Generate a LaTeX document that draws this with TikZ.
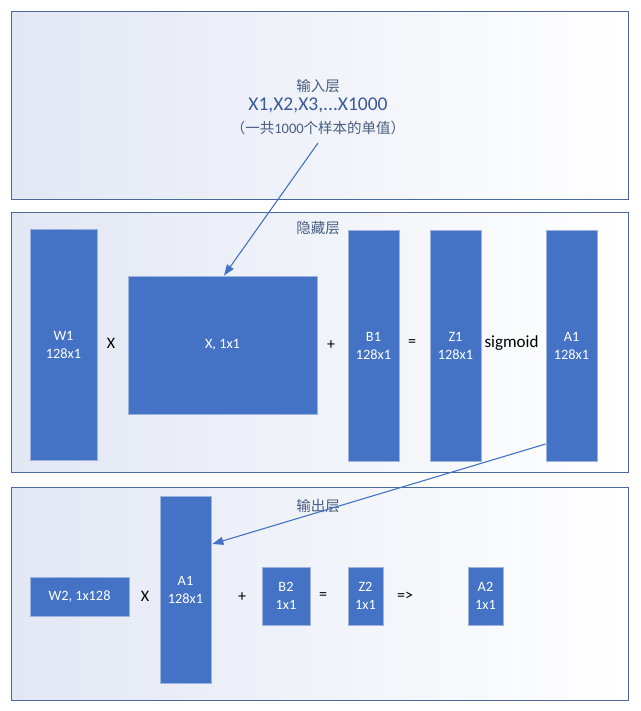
\documentclass[tikz,border=0pt]{standalone}
\usepackage{fontspec}
\setmainfont{Carlito}
\newfontfamily\cjk{Noto Sans CJK SC}
\usetikzlibrary{arrows.meta}
\definecolor{boxblue}{HTML}{4472C4}
\definecolor{boxedge}{HTML}{9DB3DE}
\definecolor{panelline}{HTML}{4A6899}
\definecolor{panelfill}{HTML}{E2E7F4}
\definecolor{panelmid}{HTML}{F7F9FD}
\definecolor{labelc}{HTML}{4A5D80}
\definecolor{headc}{HTML}{3C5A99}
\definecolor{arrowc}{HTML}{4472C4}
\begin{document}
\begin{tikzpicture}[x=1pt,y=-1pt,
  panel/.style={draw=panelline,line width=1pt,left color=panelfill,middle color=panelmid,right color=white},
  box/.style={rectangle,fill=boxblue,draw=boxedge,line width=0.8pt,text=white,align=center,inner sep=0pt,font=\fontsize{14.3}{18}\selectfont},
  op/.style={inner sep=1pt,text=black,font=\fontsize{16}{18}\selectfont},
  lbl/.style={inner sep=1pt,text=labelc,font=\cjk\fontsize{14.5}{17}\selectfont},
  conn/.style={draw=arrowc,line width=1.1pt,-{Triangle[length=11pt,width=8pt]}}]
\useasboundingbox[fill=white] (0,0) rectangle (640,711);
% panels
\path[panel] (11,12) rectangle (628,200);
\path[panel] (11,213) rectangle (628,472);
\path[panel] (11,487) rectangle (628,700);
% input layer
\node[lbl] (inl) at (318,86) {输入层};
\node[inner sep=1pt,text=headc,font=\fontsize{19.5}{22}\selectfont] (xs) at (318,105) {X1,X2,X3,...X1000};
\node[lbl] (note) at (318,128) {（一共{\rmfamily 1000}个样本的单值）};
\coordinate (a1s) at (318,143);
% hidden layer
\node[lbl] (hidl) at (318,228) {隐藏层};
\node[box,minimum width=67pt,minimum height=231pt] (W1) at (63.5,344.5) {W1\\128x1};
\node[op] (m1) at (111,343) {X};
\node[box,minimum width=189pt,minimum height=138pt] (Xb) at (222.5,345) {X, 1x1};
\node[op] (p1) at (331,345) {+};
\node[box,minimum width=51pt,minimum height=231pt] (B1) at (373.5,345.5) {B1\\128x1};
\node[op] (e1) at (412,343) {=};
\node[box,minimum width=51pt,minimum height=231pt] (Z1) at (455.5,345.5) {Z1\\128x1};
\node[op,font=\fontsize{17}{20}\selectfont] (sg) at (511.5,343) {sigmoid};
\node[box,minimum width=51pt,minimum height=231pt] (A1) at (571.5,345.5) {A1\\128x1};
% output layer
\node[lbl] (outl) at (318,506) {输出层};
\node[box,minimum width=99pt,minimum height=39pt] (W2) at (79.5,596.5) {W2, 1x128};
\node[op] (m2) at (145,596) {X};
\node[box,minimum width=51pt,minimum height=187pt] (A1b) at (185.5,589.5) {A1\\128x1};
\node[op] (p2) at (242,597) {+};
\node[box,minimum width=48pt,minimum height=58pt] (B2) at (286,596) {B2\\1x1};
\node[op] (e2) at (323,596) {=};
\node[box,minimum width=35pt,minimum height=58pt] (Z2) at (365.5,596) {Z2\\1x1};
\node[op] (im) at (405,596) {=>};
\node[box,minimum width=35pt,minimum height=58pt] (A2) at (485.5,596) {A2\\1x1};
% connectors
\draw[conn] (a1s) -- ([xshift=1.5pt]Xb.north);
\draw[conn] ([yshift=-98.5pt]A1.west) -- ([yshift=45.5pt,xshift=1pt]A1b.east);
\end{tikzpicture}
\end{document}
